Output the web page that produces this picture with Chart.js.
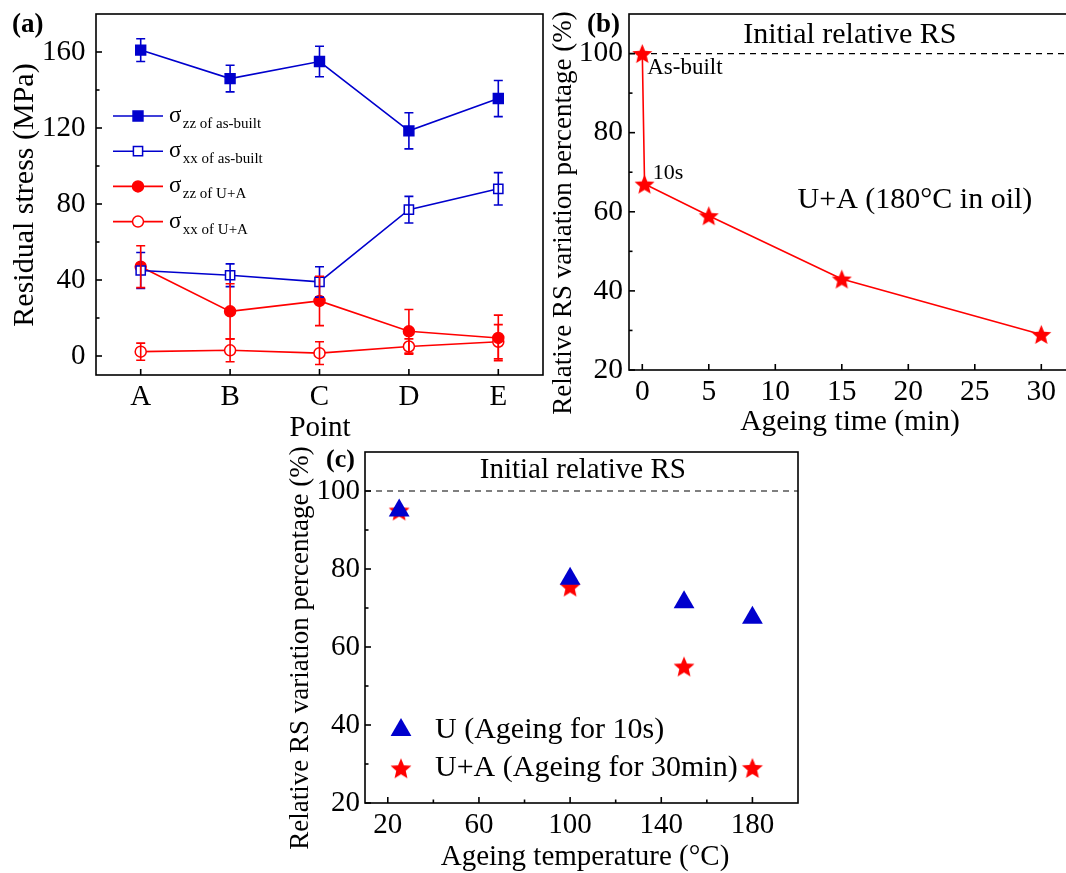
<!DOCTYPE html>
<html>
<head>
<meta charset="utf-8">
<script src="https://cdn.jsdelivr.net/npm/chart.js@4.4.1/dist/chart.umd.min.js"></script>
<style>
body { margin: 0; background: #fff; width: 1066px; height: 873px; overflow: hidden; position: relative; }
canvas { position: absolute; }
</style>
</head>
<body>
<canvas id="chartA" width="560" height="445" style="left:0px;top:0px;width:560px;height:445px"></canvas>
<canvas id="chartB" width="535" height="445" style="left:545px;top:0px;width:535px;height:445px"></canvas>
<canvas id="chartC" width="530" height="433" style="left:280px;top:440px;width:530px;height:433px"></canvas>
<script>
// (a) residual stress at points A-E
const pointLabels = ['A', 'B', 'C', 'D', 'E'];
const zzBuilt = [161, 146, 155, 118.5, 135.5];
const zzBuiltErr = [6, 7, 8, 9.5, 9.5];
const xxBuilt = [45, 42.5, 39, 77, 88];
const xxBuiltErr = [9.5, 6, 8, 7, 8.5];
const zzUA = [47, 23.5, 29, 13, 9.5];
const zzUAErr = [11, 14.5, 13, 11.5, 12];
const xxUA = [2.3, 3, 1.5, 5, 7.5];
const xxUAErr = [4.5, 6, 6, 4, 9];
const aTicksY = [0, 40, 80, 120, 160];
const aMinorY = [20, 60, 100, 140];

// (b) ageing time
const ageTime = [0, 0.17, 5, 15, 30];
const ageRS = [100, 67, 59, 43, 29];
const bTicksX = [0, 5, 10, 15, 20, 25, 30];
const bTicksY = [20, 40, 60, 80, 100];
const bMinorY = [30, 50, 70, 90];

// (c) ageing temperature
const ageTemp = [25, 100, 150, 180];
const uRS = [95, 77.5, 71.5, 67.5];
const uaRS = [95, 75.5, 55, 29];
const cTicksX = [20, 60, 100, 140, 180];
const cMinorX = [40, 80, 120, 160];
const cTicksY = [20, 40, 60, 80, 100];
const cMinorY = [30, 50, 70, 90];

const BLUE = '#0000cd';
const RED = '#ff0000';
const FONT = 'Liberation Serif';

Chart.defaults.font.family = FONT;
Chart.defaults.color = '#000';

function makeStar(r, color) {
  const c = document.createElement('canvas');
  c.width = c.height = Math.ceil(2 * r + 2);
  const g = c.getContext('2d');
  const m = c.width / 2;
  g.beginPath();
  for (let i = 0; i < 10; i++) {
    const rr = i % 2 ? r * 0.45 : r;
    const a = -Math.PI / 2 + i * Math.PI / 5;
    g.lineTo(m + rr * Math.cos(a), m + 1 + rr * Math.sin(a));
  }
  g.closePath();
  g.fillStyle = color;
  g.fill();
  return c;
}

function drawText(ctx, t) {
  ctx.save();
  ctx.font = (t.bold ? 'bold ' : '') + t.size + 'px "' + FONT + '"';
  ctx.fillStyle = '#000';
  ctx.textAlign = t.align || 'center';
  ctx.textBaseline = 'middle';
  ctx.translate(t.x, t.y);
  if (t.rotate) ctx.rotate(-Math.PI / 2);
  ctx.fillText(t.text, 0, 0);
  ctx.restore();
}

// frame, inward ticks, tick labels, error bars, ref line, texts and legends
const framePlugin = {
  id: 'frame',
  beforeDatasetsDraw(chart, args, o) {
    const { ctx, chartArea: ca, scales } = chart;
    if (o.refLine != null) {
      const y = scales.y.getPixelForValue(o.refLine);
      ctx.save();
      ctx.setLineDash([6, 5]);
      ctx.lineWidth = 1.2;
      ctx.strokeStyle = '#000';
      ctx.beginPath();
      ctx.moveTo(ca.left, y);
      ctx.lineTo(ca.right, y);
      ctx.stroke();
      ctx.restore();
    }
  },
  afterDatasetsDraw(chart) {
    const { ctx, scales } = chart;
    chart.data.datasets.forEach((ds, i) => {
      if (!ds.errors) return;
      const meta = chart.getDatasetMeta(i);
      ctx.save();
      ctx.strokeStyle = ds.borderColor;
      ctx.lineWidth = 1.6;
      meta.data.forEach((pt, j) => {
        const v = ds.data[j];
        const y1 = scales.y.getPixelForValue(v + ds.errors[j]);
        const y2 = scales.y.getPixelForValue(v - ds.errors[j]);
        ctx.beginPath();
        ctx.moveTo(pt.x, y1); ctx.lineTo(pt.x, y2);
        ctx.moveTo(pt.x - 4.5, y1); ctx.lineTo(pt.x + 4.5, y1);
        ctx.moveTo(pt.x - 4.5, y2); ctx.lineTo(pt.x + 4.5, y2);
        ctx.stroke();
      });
      ctx.restore();
    });
  },
  afterDraw(chart, args, o) {
    const { ctx, chartArea: ca, scales } = chart;
    ctx.save();
    ctx.strokeStyle = '#000';
    ctx.lineWidth = 1.6;
    ctx.strokeRect(ca.left, ca.top, ca.right - ca.left, ca.bottom - ca.top);
    const tick = (vals, len, axis) => {
      (vals || []).forEach(v => {
        ctx.beginPath();
        if (axis === 'x') {
          const x = scales.x.getPixelForValue(v);
          ctx.moveTo(x, ca.bottom); ctx.lineTo(x, ca.bottom - len);
        } else {
          const y = scales.y.getPixelForValue(v);
          ctx.moveTo(ca.left, y); ctx.lineTo(ca.left + len, y);
        }
        ctx.stroke();
      });
    };
    tick(o.xMajor, 6, 'x');
    tick(o.xMinor, 3.5, 'x');
    tick(o.yMajor, 6, 'y');
    tick(o.yMinor, 3.5, 'y');
    ctx.restore();

    // tick labels
    (o.xMajor || []).forEach((v, i) => {
      const lab = o.xNames ? o.xNames[i] : String(v);
      drawText(ctx, { text: lab, x: scales.x.getPixelForValue(v), y: ca.bottom + o.xLabelGap, size: o.tickSize });
    });
    (o.yMajor || []).forEach(v => {
      drawText(ctx, { text: String(v), x: ca.left - o.yLabelGap, y: scales.y.getPixelForValue(v), size: o.tickSize, align: 'right' });
    });

    (o.texts || []).forEach(t => {
      const tt = Object.assign({}, t);
      if (t.data) {
        tt.x = scales.x.getPixelForValue(t.x);
        tt.y = scales.y.getPixelForValue(t.y);
      }
      drawText(ctx, tt);
    });

    const lg = o.legend;
    if (lg) {
      chart.data.datasets.forEach((ds, i) => {
        const y = lg.y + i * lg.dy;
        ctx.save();
        if (lg.line) {
          ctx.strokeStyle = ds.borderColor;
          ctx.lineWidth = 1.6;
          ctx.beginPath();
          ctx.moveTo(lg.x - lg.line / 2, y);
          ctx.lineTo(lg.x + lg.line / 2, y);
          ctx.stroke();
        }
        ctx.fillStyle = ds.pointBackgroundColor;
        ctx.strokeStyle = ds.borderColor;
        ctx.lineWidth = ds.pointBorderWidth || 1;
        Chart.helpers.drawPoint(ctx, {
          pointStyle: ds.pointStyle, radius: ds.pointRadius, rotation: 0,
          borderWidth: ds.pointBorderWidth || 0
        }, lg.x, y);
        ctx.restore();
        if (ds.legendSub) {
          drawText(ctx, { text: 'σ', x: lg.textX, y: y, size: lg.size, align: 'left' });
          drawText(ctx, { text: ds.legendSub, x: lg.textX + lg.size * 0.6, y: y + 8, size: lg.subSize, align: 'left' });
        } else {
          drawText(ctx, { text: ds.label, x: lg.textX, y: y, size: lg.size, align: 'left' });
        }
      });
    }
  }
};

function axes(x, y) {
  x.afterFit = s => { s.height = 0; };
  y.afterFit = s => { s.width = 0; };
  x.grid = { display: false, drawTicks: false };
  y.grid = { display: false, drawTicks: false };
  x.border = { display: false };
  y.border = { display: false };
  x.ticks = { display: false };
  y.ticks = { display: false };
  return { x: x, y: y };
}

// ---- (a)
function lineSet(label, sub, data, errors, color, style, filled, r) {
  return {
    label: label, legendSub: sub, data: data, errors: errors,
    borderColor: color, borderWidth: 1.6,
    pointStyle: style, pointRadius: r, pointHoverRadius: r,
    pointBackgroundColor: filled ? color : '#fff',
    pointBorderColor: color, pointBorderWidth: 1.5
  };
}

new Chart(document.getElementById('chartA'), {
  type: 'line',
  data: {
    labels: pointLabels,
    datasets: [
      lineSet('σzz of as-built', 'zz of as-built', zzBuilt, zzBuiltErr, BLUE, 'rect', true, 7),
      lineSet('σxx of as-built', 'xx of as-built', xxBuilt, xxBuiltErr, BLUE, 'rect', false, 6.5),
      lineSet('σzz of U+A', 'zz of U+A', zzUA, zzUAErr, RED, 'circle', true, 5.5),
      lineSet('σxx of U+A', 'xx of U+A', xxUA, xxUAErr, RED, 'circle', false, 5.5)
    ]
  },
  options: {
    responsive: false, animation: false,
    layout: { padding: { left: 96, top: 14, right: 17, bottom: 70 } },
    scales: axes(
      { type: 'category', offset: true },
      { type: 'linear', min: -10, max: 180 }
    ),
    plugins: {
      legend: { display: false },
      tooltip: { enabled: false },
      frame: {
        xMajor: [0, 1, 2, 3, 4], xNames: pointLabels, yMajor: aTicksY, yMinor: aMinorY,
        tickSize: 29, xLabelGap: 22, yLabelGap: 10.5,
        texts: [
          { text: '(a)', x: 12, y: 25, size: 27, bold: true, align: 'left' },
          { text: 'Residual stress (MPa)', x: 25, y: 195, size: 30, rotate: true },
          { text: 'Point', x: 320, y: 428, size: 29 }
        ],
        legend: { x: 138, y: 116, dy: 35.2, line: 50, textX: 169, size: 23, subSize: 15 }
      }
    }
  },
  plugins: [framePlugin]
});

// ---- (b)
const starB = makeStar(10.5, RED);
new Chart(document.getElementById('chartB'), {
  type: 'line',
  data: {
    datasets: [{
      label: 'U+A (180°C in oil)',
      data: ageTime.map((t, i) => ({ x: t, y: ageRS[i] })),
      borderColor: RED, borderWidth: 1.6,
      pointStyle: starB, pointRadius: 10.5
    }]
  },
  options: {
    responsive: false, animation: false,
    layout: { padding: { left: 84, top: 14, right: 9, bottom: 75 } },
    scales: axes(
      { type: 'linear', min: -1, max: 32 },
      { type: 'linear', min: 20, max: 110 }
    ),
    plugins: {
      legend: { display: false },
      tooltip: { enabled: false },
      frame: {
        refLine: 100,
        xMajor: bTicksX, yMajor: bTicksY, yMinor: bMinorY,
        tickSize: 29.5, xLabelGap: 22, yLabelGap: 6,
        texts: [
          { text: '(b)', x: 42, y: 25, size: 27, bold: true, align: 'left' },
          { text: 'Relative RS variation percentage (%)', x: 18.5, y: 213, size: 27, rotate: true },
          { text: 'Ageing time (min)', x: 305, y: 422, size: 29.5 },
          { text: 'Initial relative RS', x: 15.6, y: 104.6, size: 30, data: true },
          { text: 'As-built', x: 0.37, y: 96.3, size: 23, align: 'left', data: true },
          { text: '10s', x: 0.78, y: 69.8, size: 22, align: 'left', data: true },
          { text: 'U+A (180°C in oil)', x: 20.5, y: 63, size: 30, data: true }
        ]
      }
    }
  },
  plugins: [framePlugin]
});

// ---- (c)
const starC = makeStar(11, RED);
new Chart(document.getElementById('chartC'), {
  type: 'scatter',
  data: {
    datasets: [
      {
        label: 'U (Ageing for 10s)',
        data: ageTemp.map((t, i) => ({ x: t, y: uRS[i] })),
        pointStyle: 'triangle', pointRadius: 12,
        pointBackgroundColor: BLUE, backgroundColor: BLUE, borderColor: BLUE, pointBorderWidth: 0
      },
      {
        label: 'U+A (Ageing for 30min)',
        data: ageTemp.map((t, i) => ({ x: t, y: uaRS[i] })),
        pointStyle: starC, pointRadius: 11,
        pointBackgroundColor: RED, borderColor: RED
      }
    ]
  },
  options: {
    responsive: false, animation: false,
    layout: { padding: { left: 85, top: 9, right: 5, bottom: 70 } },
    scales: axes(
      { type: 'linear', min: 10, max: 200 },
      { type: 'linear', min: 20, max: 110 }
    ),
    plugins: {
      legend: { display: false },
      tooltip: { enabled: false },
      frame: {
        refLine: 100,
        xMajor: cTicksX, xMinor: cMinorX, yMajor: cTicksY, yMinor: cMinorY,
        tickSize: 29, xLabelGap: 22, yLabelGap: 5,
        texts: [
          { text: '(c)', x: 46, y: 20, size: 26, bold: true, align: 'left' },
          { text: 'Relative RS variation percentage (%)', x: 20.7, y: 208, size: 27, rotate: true },
          { text: 'Ageing temperature (°C)', x: 305, y: 417, size: 29 },
          { text: 'Initial relative RS', x: 105.6, y: 105.2, size: 29, data: true }
        ],
        legend: { x: 121, y: 290, dy: 38.3, textX: 155, size: 30 }
      }
    }
  },
  plugins: [framePlugin]
});
</script>
</body>
</html>
